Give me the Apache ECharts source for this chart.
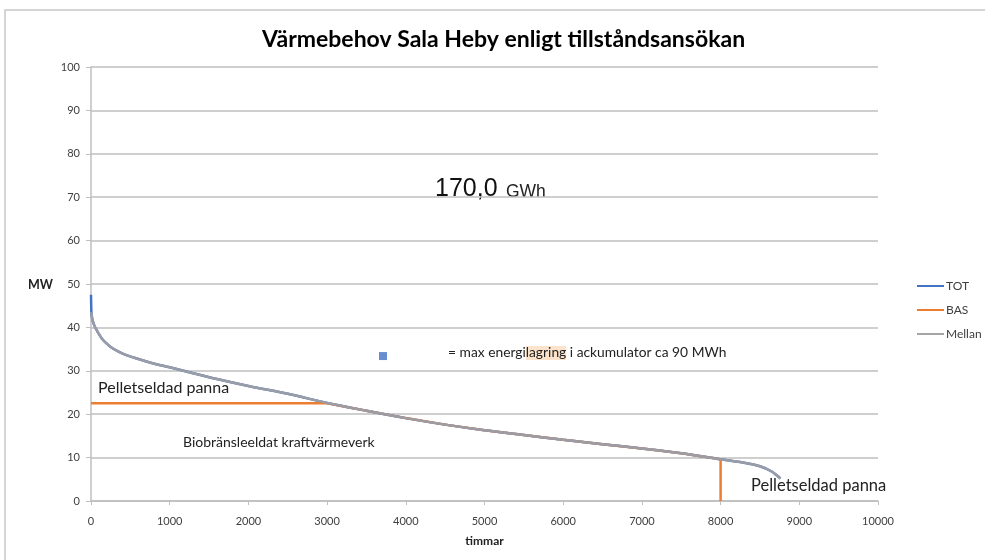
<!DOCTYPE html>
<html>
<head>
<meta charset="utf-8">
<script src="https://cdn.jsdelivr.net/npm/echarts@6/dist/echarts.min.js"></script>
<style>
  html, body { margin: 0; padding: 0; background: #fff; }
  #chart { width: 985px; height: 560px; }
</style>
</head>
<body>
<div id="chart"></div>
<script>
// varaktighetskurva, timmar -> MW
const hours = [0, 5, 10, 20, 35, 50, 75, 100, 140, 180, 250, 350, 450, 550, 770, 1000, 1200, 1600, 2000, 2500, 3000, 3500, 4000, 4500, 5000, 5500, 6000, 6500, 7000, 7500, 8000, 8300, 8500, 8650, 8720, 8760];
const tot = [47.5, 43.5, 42.6, 41.6, 40.8, 40.1, 39.3, 38.5, 37.4, 36.6, 35.5, 34.4, 33.6, 33.0, 31.8, 30.8, 29.9, 28.1, 26.5, 24.7, 22.6, 20.8, 19.1, 17.6, 16.3, 15.2, 14.1, 13.1, 12.1, 11.0, 9.6, 8.8, 8.0, 6.8, 5.8, 5.2];
const basLevel = 22.5;
const basEnd = 8000;
const storagePoint = [3710, 33.4];
const xTicks = [0, 1000, 2000, 3000, 4000, 5000, 6000, 7000, 8000, 9000, 10000];

const totData = hours.map((h, i) => [h, tot[i]]);
const mellanData = totData.slice(1);
const basData = totData
  .filter(p => p[0] <= basEnd)
  .map(p => [p[0], Math.min(p[1], basLevel)]);
basData.push([basEnd, 0]);

const chart = echarts.init(document.getElementById('chart'));
const font = 'Lato, "Open Sans", sans-serif';

const option = {
  animation: false,
  title: {
    text: 'Värmebehov Sala Heby enligt tillståndsansökan',
    left: 257,
    top: 23,
    textStyle: { fontFamily: font, fontSize: 23, fontWeight: 'bold', color: '#000' }
  },
  grid: { left: 91, right: 107, top: 67, bottom: 59 },
  legend: {
    data: ['TOT', 'BAS', 'Mellan'],
    orient: 'vertical',
    left: 912,
    top: 275,
    itemWidth: 27,
    itemHeight: 2,
    itemGap: 12,
    icon: 'rect',
    textStyle: { fontFamily: font, fontSize: 12, color: '#404040', padding: [0, 0, 0, -3] }
  },
  xAxis: {
    type: 'value',
    min: 0,
    max: 10000,
    interval: 1000,
    name: 'timmar',
    nameLocation: 'middle',
    nameGap: 34,
    nameTextStyle: { fontFamily: font, fontSize: 12, fontWeight: 'bold', color: '#222' },
    axisLine: { lineStyle: { color: '#BFBFBF', width: 1.5 } },
    axisTick: { show: true, length: 4, lineStyle: { color: '#BFBFBF' } },
    axisLabel: {
      fontFamily: font, fontSize: 11, color: '#404040', margin: 15,
      formatter: v => xTicks.includes(v) ? String(v) : ''
    },
    splitLine: { show: false }
  },
  yAxis: {
    type: 'value',
    min: 0,
    max: 100,
    interval: 10,
    axisLine: { show: true, lineStyle: { color: '#BFBFBF', width: 1.5 } },
    axisTick: { show: true, length: 5, lineStyle: { color: '#BFBFBF' } },
    axisLabel: { fontFamily: font, fontSize: 11, color: '#404040', margin: 11 },
    splitLine: { lineStyle: { color: '#BFBFBF', width: 1.5 } }
  },
  series: [
    {
      name: 'TOT',
      type: 'line',
      data: totData,
      smooth: 0.3,
      symbol: 'none',
      z: 2,
      lineStyle: { color: '#4472C4', width: 2.5 },
      itemStyle: { color: '#4472C4' }
    },
    {
      name: 'BAS',
      type: 'line',
      data: basData,
      symbol: 'none',
      z: 3,
      lineStyle: { color: '#ED7D31', width: 2.5 },
      itemStyle: { color: '#ED7D31' }
    },
    {
      name: 'Mellan',
      type: 'line',
      data: mellanData,
      smooth: 0.3,
      symbol: 'none',
      z: 4,
      lineStyle: { color: '#9A9CA6', width: 2.5 },
      itemStyle: { color: '#A5A5A5' }
    },
    {
      name: 'Lagring',
      type: 'scatter',
      data: [storagePoint],
      symbol: 'rect',
      symbolSize: 8,
      z: 5,
      itemStyle: { color: '#4472C4' }
    }
  ],
  graphic: [
    // ram
    { type: 'polyline', shape: { points: [[5, 560], [5, 10], [985, 10]] }, style: { stroke: '#C8C8C8', lineWidth: 1.5, fill: null } },
    {
      type: 'text', left: 28, top: 278,
      style: { text: 'MW', fontFamily: font, fontSize: 12.5, fontWeight: 'bold', fill: '#222' }
    },
    {
      type: 'text', left: 435, top: 177,
      style: {
        text: '{a|170,0} {b|GWh}',
        rich: {
          a: { fontFamily: 'Liberation Sans, Arial, sans-serif', fontSize: 25, fill: '#111' },
          b: { fontFamily: 'Liberation Sans, Arial, sans-serif', fontSize: 17.5, fill: '#222', padding: [5, 0, 0, 5] }
        }
      }
    },
    {
      type: 'text', left: 448, top: 346,
      style: {
        text: '{t|= max energi}{h|lagring}{t| i ackumulator ca 90 MWh}',
        rich: {
          t: { fontFamily: font, fontSize: 13.8, fill: '#222' },
          h: { fontFamily: font, fontSize: 13.8, fill: '#222', backgroundColor: '#FCE4CC' }
        }
      }
    },
    {
      type: 'text', left: 98, top: 380,
      style: { text: 'Pelletseldad panna', fontFamily: font, fontSize: 16, fill: '#222' }
    },
    {
      type: 'text', left: 183, top: 435,
      style: { text: 'Biobränsleeldat kraftvärmeverk', fontFamily: font, fontSize: 14, fill: '#222' }
    },
    {
      type: 'text', left: 751, top: 477,
      style: { text: 'Pelletseldad panna', fontFamily: font, fontSize: 16.5, fill: '#222' }
    }
  ]
};

chart.setOption(option);
window.addEventListener('resize', () => chart.resize());
</script>
</body>
</html>
